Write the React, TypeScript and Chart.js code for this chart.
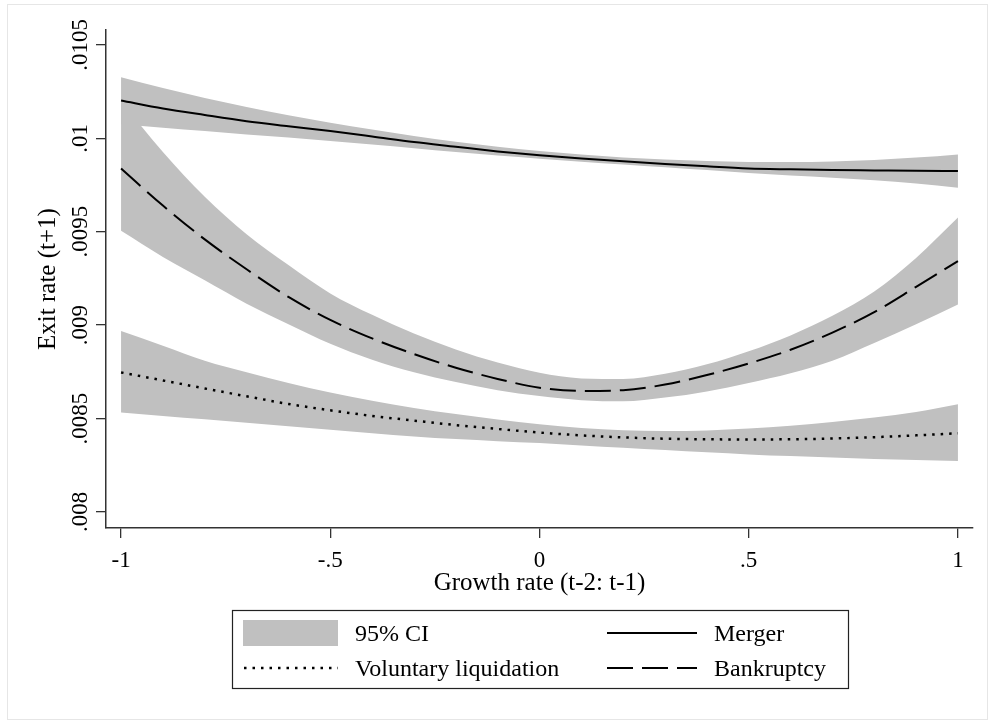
import React, { useEffect, useRef } from "react";
import { Chart, registerables } from "chart.js";

Chart.register(...registerables);

const growthRate = [-1, -0.9, -0.8, -0.7, -0.6, -0.5, -0.4, -0.3, -0.2, -0.1, 0, 0.1, 0.2, 0.3, 0.4, 0.5, 0.6, 0.7, 0.8, 0.9, 1];

const mergerFit = [0.010203, 0.01016, 0.010125, 0.010092, 0.010065, 0.010039, 0.01001, 0.00998, 0.009955, 0.00993, 0.009909, 0.009892, 0.009877, 0.009863, 0.00985, 0.009839, 0.009834, 0.00983, 0.009828, 0.009826, 0.009825];
const mergerUpper = [0.010327, 0.010269, 0.010216, 0.010168, 0.010124, 0.010084, 0.010047, 0.010013, 0.009982, 0.009955, 0.009932, 0.009913, 0.009898, 0.009887, 0.009879, 0.009874, 0.009873, 0.009876, 0.009884, 0.009897, 0.009914];
const mergerLower = [0.010074, 0.010057, 0.010039, 0.010021, 0.010004, 0.009986, 0.009967, 0.009947, 0.009927, 0.009908, 0.009891, 0.009875, 0.00986, 0.009845, 0.00983, 0.009814, 0.009801, 0.009789, 0.009776, 0.009758, 0.009736];

const bankruptcyFit = [0.009838, 0.00964, 0.009459, 0.009299, 0.009151, 0.009028, 0.008929, 0.008845, 0.008772, 0.008712, 0.008665, 0.008648, 0.008652, 0.008682, 0.008733, 0.008795, 0.008868, 0.00896, 0.00907, 0.009205, 0.009343];
const bankruptcyUpper = [0.0102, 0.009927, 0.009687, 0.009487, 0.009322, 0.00917, 0.009055, 0.008955, 0.00887, 0.0088, 0.008745, 0.008715, 0.008712, 0.00874, 0.00879, 0.00886, 0.008945, 0.00905, 0.00918, 0.00936, 0.009576];
const bankruptcyLower = [0.009505, 0.009365, 0.00924, 0.009115, 0.009005, 0.0089, 0.008815, 0.008748, 0.008695, 0.008652, 0.00862, 0.008598, 0.008592, 0.008612, 0.008645, 0.00869, 0.008742, 0.00881, 0.008905, 0.009005, 0.009111];

const liquidationFit = [0.008747, 0.008704, 0.008661, 0.008619, 0.008578, 0.008544, 0.008514, 0.008489, 0.008465, 0.008444, 0.008425, 0.00841, 0.008399, 0.008392, 0.008389, 0.008388, 0.008389, 0.008393, 0.0084, 0.00841, 0.008421];
const liquidationUpper = [0.008969, 0.00889, 0.00881, 0.008748, 0.00869, 0.008639, 0.008595, 0.008557, 0.008524, 0.008495, 0.008469, 0.008449, 0.008437, 0.008433, 0.008436, 0.008446, 0.008462, 0.008482, 0.008505, 0.008535, 0.008576];
const liquidationLower = [0.008532, 0.008514, 0.008496, 0.008478, 0.008459, 0.00844, 0.008421, 0.008404, 0.00839, 0.008379, 0.008369, 0.008356, 0.008343, 0.008331, 0.008319, 0.008308, 0.008299, 0.008291, 0.008284, 0.008278, 0.008273];

const xTicks = [-1, -0.5, 0, 0.5, 1];
const xTickLabels = ["-1", "-.5", "0", ".5", "1"];
const yTicks = [0.008, 0.0085, 0.009, 0.0095, 0.01, 0.0105];
const yTickLabels = [".008", ".0085", ".009", ".0095", ".01", ".0105"];

const xTitle = "Growth rate (t-2: t-1)";
const yTitle = "Exit rate (t+1)";
const legendLabels = ["95% CI", "Merger", "Voluntary liquidation", "Bankruptcy"];

const GRAY = "rgb(192,192,192)";
const SERIF = '"Liberation Serif", "Times New Roman", serif';

const pts = (ys: number[]) => growthRate.map((x, i) => ({ x, y: ys[i] }));

const bandUpper = (ys: number[]) => ({
  data: pts(ys),
  fill: "+1",
  backgroundColor: GRAY,
  borderColor: "rgba(0,0,0,0)",
  borderWidth: 0,
  pointRadius: 0,
  cubicInterpolationMode: "monotone" as const,
});
const bandLower = (ys: number[]) => ({
  data: pts(ys),
  fill: false,
  borderColor: "rgba(0,0,0,0)",
  borderWidth: 0,
  pointRadius: 0,
  cubicInterpolationMode: "monotone" as const,
});
const fitLine = (ys: number[], dash: number[], w: number) => ({
  data: pts(ys),
  fill: false,
  borderColor: "#000",
  borderWidth: w,
  borderDash: dash,
  borderCapStyle: "butt" as const,
  pointRadius: 0,
  cubicInterpolationMode: "monotone" as const,
});

const textPlugin = {
  id: "stataText",
  beforeDraw(chart: any) {
    const ctx = chart.ctx;
    ctx.save();
    ctx.fillStyle = "#fff";
    ctx.fillRect(0, 0, chart.width, chart.height);
    ctx.strokeStyle = "#e6e6e6";
    ctx.lineWidth = 1;
    ctx.strokeRect(7.5, 4.5, 980, 715);
    ctx.restore();
  },
  afterDraw(chart: any) {
    const ctx = chart.ctx;
    const ys = chart.scales.y;
    const area = chart.chartArea;
    ctx.save();
    ctx.fillStyle = "#000";
    ctx.font = `23px ${SERIF}`;
    ctx.textAlign = "center";
    ctx.textBaseline = "alphabetic";
    yTicks.forEach((v, i) => {
      const py = ys.getPixelForValue(v);
      ctx.save();
      ctx.translate(87, py);
      ctx.rotate(-Math.PI / 2);
      ctx.fillText(yTickLabels[i], 0, 0);
      ctx.restore();
    });
    ctx.font = `25px ${SERIF}`;
    ctx.save();
    ctx.translate(55, (area.top + area.bottom) / 2);
    ctx.rotate(-Math.PI / 2);
    ctx.fillText(yTitle, 0, 0);
    ctx.restore();
    ctx.fillText(xTitle, (area.left + area.right) / 2, 590);

    ctx.strokeStyle = "#222";
    ctx.lineWidth = 1.2;
    ctx.strokeRect(232.5, 610.5, 616, 78);
    ctx.fillStyle = GRAY;
    ctx.fillRect(243, 620, 95, 26);
    ctx.strokeStyle = "#000";
    ctx.lineWidth = 2;
    ctx.beginPath();
    ctx.moveTo(607, 633);
    ctx.lineTo(697, 633);
    ctx.stroke();
    ctx.lineWidth = 2.5;
    ctx.setLineDash([2.5, 6]);
    ctx.beginPath();
    ctx.moveTo(244, 668);
    ctx.lineTo(338, 668);
    ctx.stroke();
    ctx.lineWidth = 2;
    ctx.setLineDash([26, 9]);
    ctx.beginPath();
    ctx.moveTo(607, 668);
    ctx.lineTo(697, 668);
    ctx.stroke();
    ctx.setLineDash([]);
    ctx.fillStyle = "#000";
    ctx.font = `24px ${SERIF}`;
    ctx.textAlign = "left";
    ctx.fillText(legendLabels[0], 355, 641);
    ctx.fillText(legendLabels[1], 714, 641);
    ctx.fillText(legendLabels[2], 355, 676);
    ctx.fillText(legendLabels[3], 714, 676);
    ctx.restore();
  },
};

export default function App() {
  const ref = useRef<HTMLCanvasElement | null>(null);
  useEffect(() => {
    if (!ref.current) return;
    const chart = new Chart(ref.current, {
      type: "line",
      data: {
        datasets: [
          bandUpper(mergerUpper),
          bandLower(mergerLower),
          bandUpper(bankruptcyUpper),
          bandLower(bankruptcyLower),
          bandUpper(liquidationUpper),
          bandLower(liquidationLower),
          fitLine(mergerFit, [], 2),
          fitLine(bankruptcyFit, [26, 9], 2),
          fitLine(liquidationFit, [2.5, 6], 2.5),
        ] as any,
      },
      options: {
        animation: false,
        responsive: false,
        devicePixelRatio: 1,
        layout: { padding: { left: 0, top: 30, right: 21, bottom: 128 } },
        plugins: {
          legend: { display: false },
          tooltip: { enabled: false },
          filler: { drawTime: "beforeDatasetsDraw" },
        } as any,
        scales: {
          x: {
            type: "linear",
            min: -1.036,
            max: 1.036,
            afterFit: (s: any) => {
              s.height = 70;
            },
            afterBuildTicks: (s: any) => {
              s.ticks = xTicks.map((v) => ({ value: v }));
            },
            ticks: {
              color: "#000",
              font: { family: SERIF, size: 23 },
              padding: 9,
              maxRotation: 0,
              minRotation: 0,
              callback: (v: any) => {
                const i = xTicks.indexOf(Number(v));
                return i >= 0 ? xTickLabels[i] : "";
              },
            },
            grid: { display: true, drawOnChartArea: false, drawTicks: true, tickLength: 10, color: "#333", lineWidth: 1.3 },
            border: { display: true, color: "#333", width: 1.5 },
          },
          y: {
            type: "linear",
            min: 0.007914,
            max: 0.01058,
            afterFit: (s: any) => {
              s.width = 106;
            },
            afterBuildTicks: (s: any) => {
              s.ticks = yTicks.map((v) => ({ value: v }));
            },
            ticks: { display: false },
            grid: { display: true, drawOnChartArea: false, drawTicks: true, tickLength: 10, color: "#333", lineWidth: 1.3 },
            border: { display: true, color: "#333", width: 1.5 },
          },
        },
      },
      plugins: [textPlugin],
    });
    return () => chart.destroy();
  }, []);
  return (
    <div style={{ position: "fixed", left: 0, top: 0, width: 994, height: 726, background: "#fff" }}>
      <canvas ref={ref} width={994} height={726} style={{ display: "block" }} />
    </div>
  );
}
